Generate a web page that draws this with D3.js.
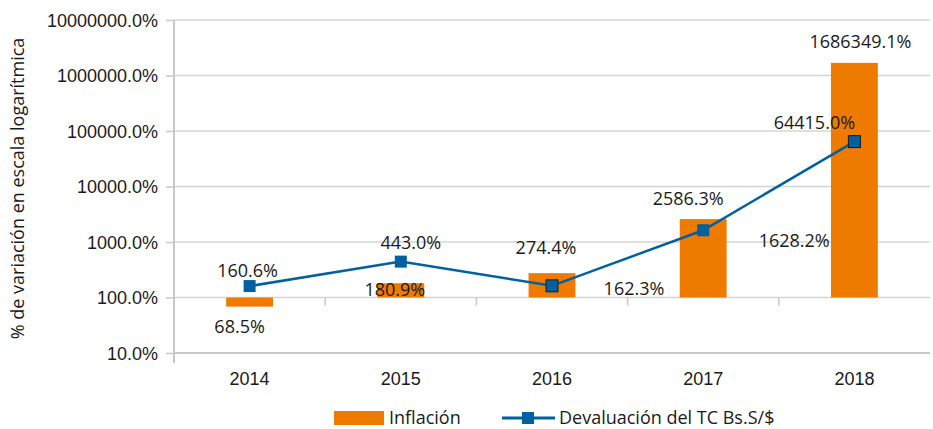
<!doctype html>
<html lang="es">
<head>
  <meta charset="utf-8">
  <script src="https://d3js.org/d3.v7.min.js"></script>
  <style>
    body { margin: 0; background: #fff; }
    svg { font-family: "Open Sans", sans-serif; }
  </style>
</head>
<body>
  <svg id="chart"></svg>
  <script>
    // data
    const years = ["2014", "2015", "2016", "2017", "2018"];
    const inflacion = [68.5, 180.9, 274.4, 2586.3, 1686349.1];
    const devaluacion = [160.6, 443.0, 162.3, 1628.2, 64415.0];
    const yTicks = [10, 100, 1000, 10000, 100000, 1000000, 10000000];

    // where each value label sits relative to its mark [dx, dy]
    const offInf = [[-10, 26], [-6, 13], [-6, -19], [-15, -14], [6, -15]];
    const offDev = [[-2, -9], [10, -13], [82, 9], [91, 17], [-40, -13]];
    const markerEdge = [false, false, true, false, true];

    const width = 933, height = 429;
    const margin = {top: 20, right: 3, bottom: 76, left: 174};
    const orange = "#EF7A00", blue = "#0060A0", grid = "#d4d4d4", ink = "#1a1a1a";

    const svg = d3.select("#chart").attr("width", width).attr("height", height);

    const x = d3.scaleBand()
      .domain(years)
      .range([margin.left, width - margin.right]);

    const y = d3.scaleLog()
      .domain([10, 10000000])
      .range([height - margin.bottom, margin.top]);

    const fmt = d => d3.format(".1f")(d) + "%";

    // gridlines
    svg.append("g")
      .selectAll("line")
      .data(yTicks)
      .join("line")
        .attr("x1", margin.left)
        .attr("x2", width - margin.right)
        .attr("y1", d => y(d))
        .attr("y2", d => y(d))
        .attr("stroke", (d, i) => i === 0 ? "#c8c8c8" : grid)
        .attr("stroke-width", (d, i) => i === 0 ? 2 : 1.5);

    // y axis
    svg.append("g")
      .attr("transform", `translate(${margin.left},0)`)
      .call(d3.axisLeft(y).tickValues(yTicks).tickFormat(fmt).tickSize(8).tickPadding(8))
      .call(g => g.select(".domain").remove())
      .call(g => g.selectAll(".tick line").attr("stroke", "#c8c8c8").attr("stroke-width", 1.5))
      .call(g => g.selectAll(".tick text")
        .attr("fill", ink).attr("font-size", 18).attr("dy", "0.35em"));

    svg.append("line")
      .attr("x1", margin.left).attr("x2", margin.left)
      .attr("y1", margin.top).attr("y2", y(10) + 10)
      .attr("stroke", "#c8c8c8").attr("stroke-width", 2);

    // category ticks hang from the 100% line
    svg.append("g")
      .selectAll("line")
      .data(years.slice(1))
      .join("line")
        .attr("x1", d => x(d)).attr("x2", d => x(d))
        .attr("y1", y(100)).attr("y2", y(100) + 8)
        .attr("stroke", "#c8c8c8").attr("stroke-width", 1.5);

    // x labels
    svg.append("g")
      .attr("transform", `translate(0,${y(10)})`)
      .call(d3.axisBottom(x).tickSize(0).tickPadding(19))
      .call(g => g.select(".domain").remove())
      .call(g => g.selectAll(".tick text").attr("fill", ink).attr("font-size", 18));

    // y title
    svg.append("text")
      .attr("transform", `translate(24,${(margin.top + y(10)) / 2 + 2}) rotate(-90)`)
      .attr("text-anchor", "middle")
      .attr("font-size", 18)
      .attr("fill", ink)
      .text("% de variación en escala logarítmica");

    // bars from the 100% baseline
    const barW = x.bandwidth() * 0.31;
    const cx = d => x(d) + x.bandwidth() / 2;

    svg.append("g")
      .attr("fill", orange)
      .selectAll("rect")
      .data(years)
      .join("rect")
        .attr("x", d => cx(d) - barW / 2)
        .attr("width", barW)
        .attr("y", (d, i) => Math.min(y(inflacion[i]), y(100)))
        .attr("height", (d, i) => Math.abs(y(inflacion[i]) - y(100)));

    // devaluation line
    const line = d3.line()
      .x((d, i) => cx(years[i]))
      .y(d => y(d));

    svg.append("path")
      .datum(devaluacion)
      .attr("fill", "none")
      .attr("stroke", blue)
      .attr("stroke-width", 2.5)
      .attr("d", line);

    svg.append("g")
      .selectAll("rect")
      .data(devaluacion)
      .join("rect")
        .attr("x", (d, i) => cx(years[i]) - 6)
        .attr("y", d => y(d) - 6)
        .attr("width", 12)
        .attr("height", 12)
        .attr("fill", blue)
        .attr("stroke", (d, i) => markerEdge[i] ? ink : "none")
        .attr("stroke-width", 1);

    // value labels
    svg.append("g")
      .attr("font-size", 18).attr("fill", ink).attr("text-anchor", "middle")
      .selectAll("text")
      .data(inflacion)
      .join("text")
        .attr("x", (d, i) => cx(years[i]) + offInf[i][0])
        .attr("y", (d, i) => y(d) + offInf[i][1])
        .text(fmt);

    svg.append("g")
      .attr("font-size", 18).attr("fill", ink).attr("text-anchor", "middle")
      .selectAll("text")
      .data(devaluacion)
      .join("text")
        .attr("x", (d, i) => cx(years[i]) + offDev[i][0])
        .attr("y", (d, i) => y(d) + offDev[i][1])
        .text(fmt);

    // legend
    const lg = svg.append("g").attr("font-size", 18).attr("fill", ink);
    lg.append("rect").attr("x", 334).attr("y", 411).attr("width", 50).attr("height", 14).attr("fill", orange);
    lg.append("text").attr("x", 389).attr("y", 424).text("Inflación");
    lg.append("line").attr("x1", 502).attr("x2", 555).attr("y1", 418).attr("y2", 418)
      .attr("stroke", blue).attr("stroke-width", 3);
    lg.append("rect").attr("x", 522).attr("y", 412).attr("width", 12).attr("height", 12).attr("fill", blue);
    lg.append("text").attr("x", 559).attr("y", 424).text("Devaluación del TC Bs.S/$");
  </script>
</body>
</html>
